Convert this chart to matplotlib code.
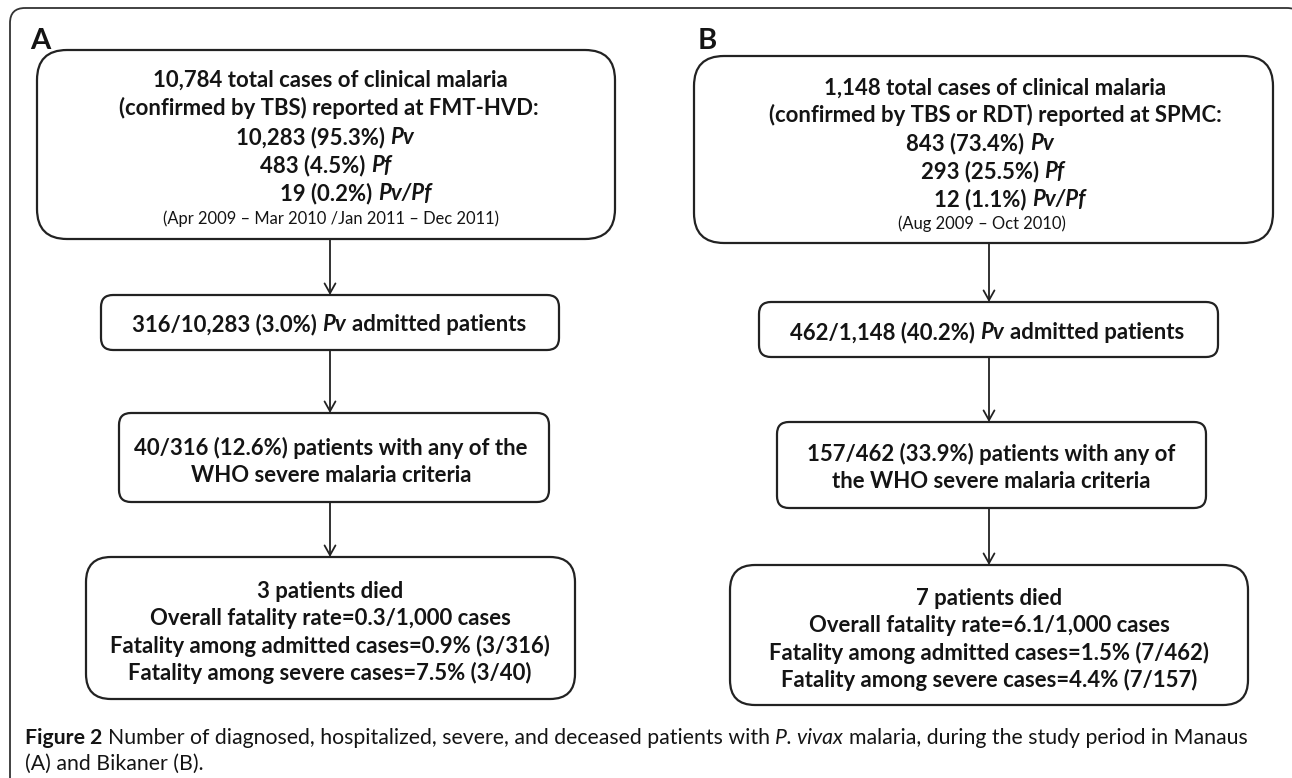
import re
import matplotlib.pyplot as plt
from matplotlib.patches import FancyBboxPatch

plt.rcParams['font.family'] = ['Lato', 'DejaVu Sans']

INK = '#141414'
EDGE = '#222222'

# Panel A (Manaus) texts
A_total = ["10,784 total cases of clinical malaria",
           "(confirmed by TBS) reported at FMT-HVD:",
           "10,283 (95.3%) *Pv*",
           "483 (4.5%) *Pf*",
           "19 (0.2%) *Pv/Pf*"]
A_period = "(Apr 2009 \u2013 Mar 2010 /Jan 2011 \u2013 Dec 2011)"
A_admitted = ["316/10,283 (3.0%) *Pv* admitted patients"]
A_severe = ["40/316 (12.6%) patients with any of the",
            "WHO severe malaria criteria"]
A_died = ["3 patients died",
          "Overall fatality rate=0.3/1,000 cases",
          "Fatality among admitted cases=0.9% (3/316)",
          "Fatality among severe cases=7.5% (3/40)"]

# Panel B (Bikaner) texts
B_total = ["1,148 total cases of clinical malaria",
           "(confirmed by TBS or RDT) reported at SPMC:",
           "843 (73.4%) *Pv*",
           "293 (25.5%) *Pf*",
           "12 (1.1%) *Pv/Pf*"]
B_period = "(Aug 2009 \u2013 Oct 2010)"
B_admitted = ["462/1,148 (40.2%) *Pv* admitted patients"]
B_severe = ["157/462 (33.9%) patients with any of",
            "the WHO severe malaria criteria"]
B_died = ["7 patients died",
          "Overall fatality rate=6.1/1,000 cases",
          "Fatality among admitted cases=1.5% (7/462)",
          "Fatality among severe cases=4.4% (7/157)"]

caption = ["**Figure 2** Number of diagnosed, hospitalized, severe, and deceased "
           "patients with *P. vivax* malaria, during the study period in Manaus",
           "(A) and Bikaner (B)."]

# canvas in pixel units
W, H = 1292, 778
fig = plt.figure(figsize=(W / 100, H / 100), dpi=100)
ax = fig.add_axes([0, 0, 1, 1])
ax.set_xlim(0, W)
ax.set_ylim(H, 0)
ax.axis('off')
renderer = fig.canvas.get_renderer()


def text_width(s, **kw):
    t = ax.text(0, 0, s, **kw)
    w = t.get_window_extent(renderer).width
    t.remove()
    return w


def fit_size(s, target, **kw):
    return 10 * target / text_width(s, fontsize=10, **kw)


def rich_line(x, y, line, size, weight='normal', ha='center'):
    # y is the visual middle of the capitals; draw on a shared baseline
    base = y + 0.36 * size * 100 / 72
    space = (text_width('a a', fontsize=size, fontweight=weight)
             - text_width('aa', fontsize=size, fontweight=weight))
    parts = [p for p in re.split(r'(\*\*.+?\*\*|\*.+?\*)', line) if p]
    pos, placed = 0, []
    for p in parts:
        style, wt = 'normal', weight
        if p.startswith('**'):
            p, wt = p[2:-2], 'bold'
        elif p.startswith('*'):
            p, style = p[1:-1], 'italic'
        pos += (len(p) - len(p.lstrip(' '))) * space
        core = p.strip(' ')
        t = ax.text(0, base, core, fontsize=size, fontweight=wt, fontstyle=style,
                    ha='left', va='baseline', color=INK)
        placed.append((pos, t))
        pos += t.get_window_extent(renderer).width
        pos += (len(p) - len(p.rstrip(' '))) * space
    x0 = x - pos / 2 if ha == 'center' else x
    for off, t in placed:
        t.set_x(x0 + off)


def box(x0, y0, x1, y1, r):
    ax.add_patch(FancyBboxPatch((x0, y0), x1 - x0, y1 - y0,
                                boxstyle=f'round,pad=0,rounding_size={r}',
                                fc='white', ec=EDGE, lw=1.6))


def arrow(x, y0, y1):
    ax.annotate('', xy=(x, y1), xytext=(x, y0),
                arrowprops=dict(arrowstyle='->,head_length=0.5,head_width=0.28',
                                color=EDGE, lw=1.3, shrinkA=0, shrinkB=0,
                                mutation_scale=14))


main_size = fit_size("Fatality among admitted cases=0.9% (3/316)", 440, fontweight='bold')
small_size = fit_size(A_period, 337)
cap_size = fit_size(re.sub(r'\*', '', caption[0]), 1222)

# outer frame: rounded top corners, bottom runs off the page
ax.add_patch(FancyBboxPatch((10, 8), 1292, 900, boxstyle='round,pad=0,rounding_size=15',
                            fc='none', ec='#333333', lw=1.3))

panels = [
    dict(label='A', lx=30, total=A_total, period=A_period, admitted=A_admitted,
         severe=A_severe, died=A_died,
         b1=(37, 50, 615, 239, 30), t1y=[79, 107, 136, 164, 192], t1x=[330, 329, 325, 326, 356],
         py=218, px=331,
         b2=(101, 295, 559, 350, 12), t2y=[323], t2x=329,
         b3=(119, 413, 549, 502, 12), t3y=[447, 474], t3x=331,
         b4=(86, 557, 575, 699, 25), t4y=[590, 617, 645, 672], t4x=330,
         ax_=330),
    dict(label='B', lx=698, total=B_total, period=B_period, admitted=B_admitted,
         severe=B_severe, died=B_died,
         b1=(694, 56, 1273, 243, 30), t1y=[87, 114, 142, 170, 198], t1x=[995, 995, 980, 993, 1010],
         py=223, px=982,
         b2=(759, 302, 1218, 357, 12), t2y=[331], t2x=987,
         b3=(777, 422, 1206, 508, 12), t3y=[453, 480], t3x=991,
         b4=(730, 565, 1248, 705, 25), t4y=[597, 624, 652, 679], t4x=989,
         ax_=989),
]

for p in panels:
    ax.text(p['lx'], 49, p['label'], fontsize=21, fontweight='bold', color=INK,
            ha='left', va='baseline')
    box(*p['b1'])
    for line, y, x in zip(p['total'], p['t1y'], p['t1x']):
        rich_line(x, y, line, main_size, weight='bold')
    rich_line(p['px'], p['py'], p['period'], small_size)

    box(*p['b2'])
    for line, y in zip(p['admitted'], p['t2y']):
        rich_line(p['t2x'], y, line, main_size, weight='bold')
    box(*p['b3'])
    for line, y in zip(p['severe'], p['t3y']):
        rich_line(p['t3x'], y, line, main_size, weight='bold')
    box(*p['b4'])
    for line, y in zip(p['died'], p['t4y']):
        rich_line(p['t4x'], y, line, main_size, weight='bold')

    x = p['ax_']
    arrow(x, p['b1'][3], p['b2'][1])
    arrow(x, p['b2'][3], p['b3'][1])
    arrow(x, p['b3'][3], p['b4'][1])

for line, y in zip(caption, [736, 762]):
    rich_line(25, y, line, cap_size, ha='left')

fig.savefig('out.png', dpi=100, facecolor='white')
